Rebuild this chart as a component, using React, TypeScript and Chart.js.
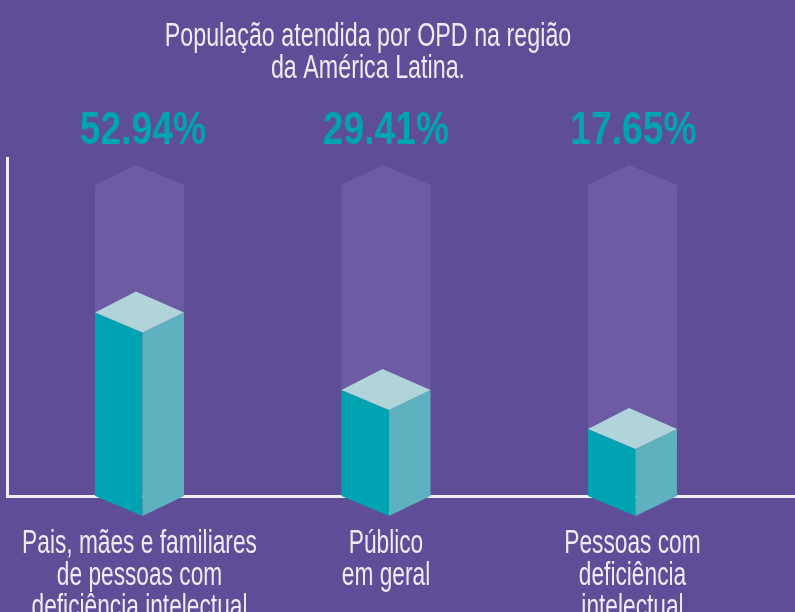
import React, { useEffect, useRef } from "react";
import { Chart, CategoryScale, registerables } from "chart.js";
import { renderText } from "chart.js/helpers";

const categories: string[][] = [
  ["Pais, mães e familiares", "de pessoas com", "deficiência intelectual"],
  ["Público", "em geral"],
  ["Pessoas com", "deficiência", "intelectual"],
];
const shareValues = [52.94, 29.41, 17.65];
const trackValues = [91.5, 91.5, 91.5];
const titleLines = ["População atendida por OPD na região", "da América Latina."];

const BG = "#5F4D98";
const TRACK = "#6D5CA3";
const TEAL = "#00A3B1";
const SIDE = "#5EB1BE";
const TOP = "#B1D4DB";
const AXIS = "#F1EFF6";
const TEXT = "#EEEBF5";
const FONT = '"Liberation Sans", sans-serif';
const TICK_SQUEEZE = 0.668;
const TITLE_SQUEEZE = 0.685;
const VALUE_SQUEEZE = 0.81;
const VALUE_NUDGE = [3.5, 0, 1];

class NarrowCategoryScale extends CategoryScale {
  static id = "narrowCategory";
  static defaults = CategoryScale.defaults;
  drawLabels() {
    const ctx = (this as any).ctx;
    for (const item of (this as any).getLabelItems()) {
      const { translation, ...opts } = item.options;
      ctx.save();
      ctx.translate(translation[0], translation[1]);
      ctx.scale(TICK_SQUEEZE, 1);
      renderText(ctx, item.label, 0, item.textOffset, item.font, opts);
      ctx.restore();
    }
  }
}

Chart.register(...registerables, NarrowCategoryScale as any);

const poly = (ctx: CanvasRenderingContext2D, pts: number[][], fill: string) => {
  ctx.beginPath();
  pts.forEach(([x, y], i) => (i ? ctx.lineTo(x, y) : ctx.moveTo(x, y)));
  ctx.closePath();
  ctx.fillStyle = fill;
  ctx.fill();
};

const squeezedText = (ctx: CanvasRenderingContext2D, text: string, x: number, y: number, sx: number) => {
  ctx.save();
  ctx.translate(x, y);
  ctx.scale(sx, 1);
  ctx.fillText(text, 0, 0);
  ctx.restore();
};

const isoBars = {
  id: "isoBars",
  beforeDraw(chart: any) {
    const { ctx, width, height } = chart;
    ctx.save();
    ctx.fillStyle = BG;
    ctx.fillRect(0, 0, width, height);
    ctx.restore();
  },
  afterDatasetsDraw(chart: any) {
    const { ctx, chartArea, width } = chart;
    const base = chartArea.bottom;
    ctx.save();
    // axes
    ctx.fillStyle = AXIS;
    ctx.fillRect(6, chartArea.top, 3, base - chartArea.top + 2);
    // tracks
    chart.getDatasetMeta(0).data.forEach((el: any) => {
      const l = el.x - el.width / 2;
      const r = el.x + el.width / 2;
      poly(ctx, [[l, base], [l, el.y], [el.x - 3.5, el.y - 20], [r, el.y], [r, base]], TRACK);
    });
    ctx.fillStyle = AXIS;
    ctx.fillRect(6, base - 1, width - 6, 3);
    // bars
    ctx.textAlign = "center";
    ctx.textBaseline = "alphabetic";
    chart.getDatasetMeta(1).data.forEach((el: any, i: number) => {
      const l = el.x - el.width / 2;
      const r = el.x + el.width / 2;
      const f = el.x + 3;
      const a = el.x - 3.5;
      const y = el.y;
      poly(ctx, [[l, y], [f, y + 20], [f, base + 20], [l, base]], TEAL);
      poly(ctx, [[f, y + 20], [r, y], [r, base], [f, base + 20]], SIDE);
      poly(ctx, [[l, y], [a, y - 21], [r, y], [f, y + 20]], TOP);
      ctx.fillStyle = TEAL;
      ctx.font = `bold 46px ${FONT}`;
      squeezedText(ctx, `${shareValues[i].toFixed(2)}%`, el.x + VALUE_NUDGE[i], 144, VALUE_SQUEEZE);
    });
    // title
    ctx.fillStyle = TEXT;
    ctx.font = `34px ${FONT}`;
    titleLines.forEach((t, i) => squeezedText(ctx, t, 368, 46 + i * 32, TITLE_SQUEEZE));
    ctx.restore();
  },
};

export default function App() {
  const ref = useRef<HTMLCanvasElement>(null);
  useEffect(() => {
    const chart = new Chart(ref.current!, {
      type: "bar",
      data: {
        labels: categories,
        datasets: [
          { label: "Total", data: trackValues, backgroundColor: "transparent" },
          { label: "População atendida", data: shareValues, backgroundColor: "transparent" },
        ],
      },
      options: {
        animation: false,
        responsive: false,
        layout: { padding: { left: 16.25, right: 39.25, top: 157, bottom: 0 } },
        datasets: { bar: { categoryPercentage: 1, barPercentage: 0.361 } },
        plugins: { legend: { display: false }, title: { display: false }, tooltip: { enabled: false } },
        scales: {
          x: {
            type: "narrowCategory",
            stacked: true,
            grid: { display: false },
            border: { display: false },
            afterFit: (s: any) => {
              s.height = 116;
              s.paddingLeft = 0;
              s.paddingRight = 0;
            },
            ticks: {
              autoSkip: false,
              maxRotation: 0,
              minRotation: 0,
              padding: 24,
              color: TEXT,
              font: { family: FONT, size: 34, lineHeight: 0.94 },
            },
          },
          y: { display: false, min: -2.67, max: 100 },
        },
      } as any,
      plugins: [isoBars],
    });
    return () => chart.destroy();
  }, []);
  return (
    <div style={{ position: "fixed", left: 0, top: 0, width: 795, height: 612, overflow: "hidden" }}>
      <canvas ref={ref} width={795} height={612} style={{ display: "block" }} />
    </div>
  );
}
